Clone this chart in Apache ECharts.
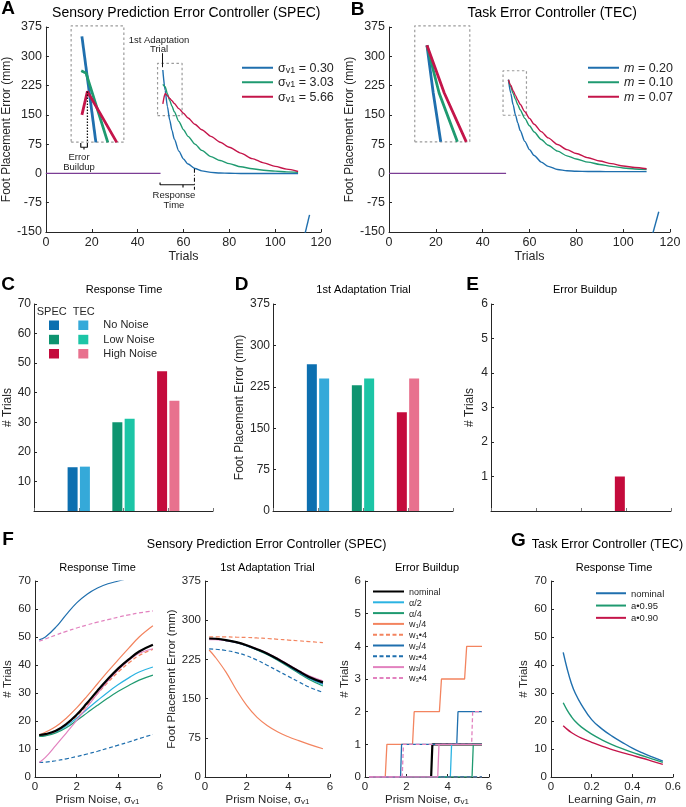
<!DOCTYPE html>
<html><head><meta charset="utf-8">
<script src="https://cdn.jsdelivr.net/npm/echarts@6/dist/echarts.min.js"></script>
<style>html,body{margin:0;padding:0;background:#fff}#c{width:686px;height:807px}</style>
</head><body><div id="c"></div>
<script>
// ================= DATA =================
// Panel A – SPEC, foot placement error per trial
const baselineTrials = [0, 50];
const baselineErr = [0, 0];
const adaptTrials = [51,52,53,54,55,56,58,60,62,65,68,72,76,80,85,90,95,100,105,110];
const specSig030 = [265,213,171,137,110,88,57,37,24,12.5,6.5,2.6,1,0.4,0,0,0,0,0,0];
const specSig303 = [228,222,204,187,172,158,133,112,95,75,59,43,33,25,17,12,8,6,4,3];
const specSig566 = [178,205,199,192,186,179,166,154,142,126,112,95,80,67,52,38,27,18,11,5];
const specLegend = ['0.30','3.03','5.66'];
// Panel B – TEC
const tecM020 = [240,205,176,150,129,110,82,61,46,29,18,10,7,5.5,5,4.8,4.6,4.5,4.5,4.5];
const tecM010 = [240,222,205,190,176,163,141,122,106,87,72,57,45,37,29,23,18,14,11.5,10];
const tecM007 = [240,226,212,200,188,177,158,141,126,107,91,74,61,51,40,32,25,19,15,12];
const tecLegend = ['0.20','0.10','0.07'];
// stray segments at the right edge of A and B
const strayA_x = [113, 115], strayA_y = [-155, -106];
const strayB_x = [112.6, 115.2], strayB_y = [-155, -98];
// inset (zoomed first trials) in A
const insetA_blue_x = [15.7, 21.8], insetA_blue_y = [351, 79.5];
const insetA_green_x = [15.4, 16.5, 17.5, 27], insetA_green_y = [263, 260, 257, 79.5];
const insetA_red_x = [15.7, 18.1, 24.4, 30.9], insetA_red_y = [150, 210, 146, 79.5];
// inset in B
const insetB_blue_x = [16.2, 18.9, 22.1], insetB_blue_y = [328, 206, 81];
const insetB_green_x = [16.2, 21.4, 29.2], insetB_green_y = [328, 206, 81];
const insetB_red_x = [16.2, 23.6, 33.0], insetB_red_y = [328, 206, 81];
// dashed boxes [x0,x1,y0,y1]
const boxA_big = [11, 34, 80, 378], boxA_small = [48.7, 59.4, 148, 282];
const boxB_big = [11, 34.5, 81, 378], boxB_small = [48.7, 58.7, 149, 263];
// annotation guides in A
const buildupDot_x = [18.1, 18.1], buildupDot_y = [210, 79];
const buildupBr_x = [15.2, 15.2, 18.1, 18.1], buildupBr_y = [78, 67, 67, 78];
const buildupStem_x = [16.6, 16.6], buildupStem_y = [67, 61];
const respBr_x = [49.8, 49.8, 64.8], respBr_y = [-23, -29, -29];
const respStem_x = [59.8, 59.8], respStem_y = [-29, -36];
const respEnd_x = [64.8, 64.8], respEnd_y = [12, -42];
const arrow_x = 50.9, arrow_y = [308, 272];

// Panels C, D, E – bars (No / Low / High noise)
const barCats = ['', 'No Noise', 'Low Noise', 'High Noise', ''];
const rtSpec = [14.8, 30.0, 47.3];
const rtTec = [15.0, 31.2, 37.3];
const firstSpec = [266, 228, 179];
const firstTec = [240, 240, 240];
const buildSpec = [0, 0, 1];
const buildTec = [0, 0, 0];

// Panel F – sensitivity vs prism noise
const fX = [0.2,0.5,1,1.5,2,2.5,3,3.5,4,4.5,5,5.66];
const rtNominal = [15,15.3,16.5,18.9,22.2,26.4,30.8,35,38.8,42,44.8,47.2];
const rtAlpha2 = [14.8,15,16,18.2,21,24.2,27.3,30.3,33,35.4,37.5,39.3];
const rtAlpha4 = [14.5,14.7,15.7,17.6,20.2,22.9,25.6,28.2,30.6,32.7,34.6,36.4];
const rtW1div = [15,16,18,21,24.7,28.9,33.3,37.7,41.9,46,50,54];
const rtW1mul = [15,15.2,16.3,18.7,21.7,25.6,29.8,33.8,37.5,40.7,43.4,45.6];
const rtW2div = [49,50,53.5,58,62.2,65.3,67.5,69,70,71,72,73];
const rtW2mul = [5.2,5.3,5.8,6.5,7.3,8.2,9.2,10.3,11.4,12.5,13.7,15.2];
const rtW3div = [5.2,7,11.3,15.7,20.2,25,29.8,34.3,38.3,41.6,44.2,45.8];
const rtW3mul = [48.5,49.3,50.7,52,53.2,54.3,55.3,56.2,57.1,57.9,58.6,59.3];

const faNominal = [265,264.5,262,258,252,244.5,236,225.5,214,202.5,191.5,181];
const faAlpha2 = [265,264.5,262,258,251.5,244,235,224.5,212.5,200.5,188.5,177];
const faAlpha4 = [265,264.5,261.5,257.5,251,243,234,223,211,198.5,186.5,174];
const faW1div = [243,229,201,167,137,114,98,86,77,69.5,62.5,54];
const faW1mul = [268,268,268,267.5,267,266,265,263.5,262,260.5,259,257];
const faW2div = [264,263.5,261,257,251,243.5,235,224.5,212.5,200.5,189.5,179];
const faW2mul = [245,244.5,242,238,232,223.5,213.5,203,192.5,182,172,162];
const faW3div = [263,263,261,257.5,252,245,236.5,226.5,215,203.5,193.5,184];
const faW3mul = [265,264.5,262,258,252.5,245.5,237,226.5,215,203.5,192.5,182];

const ebNominal_x = [0.2,3.2,3.26,5.66], ebNominal_y = [0,0,1,1];
const ebAlpha2_x = [0.2,4.13,4.19,5.66], ebAlpha2_y = [0,0,1,1];
const ebAlpha4_x = [0.2,5.18,5.24,5.66], ebAlpha4_y = [0,0,1,1];
const ebW1div_x = [0.2,0.98,1.06,2.3,2.38,3.6,3.7,4.82,4.92,5.66], ebW1div_y = [0,0,1,1,2,2,3,3,4,4];
const ebW1mul_x = [0.2,5.66], ebW1mul_y = [0,0];
const ebW2div_x = [0.2,1.72,1.77,4.44,4.5,5.66], ebW2div_y = [0,0,1,1,2,2];
const ebW2mul_x = [0.2,5.66], ebW2mul_y = [0,0];
const ebW3div_x = [0.2,3.52,3.58,5.66], ebW3div_y = [0,0,1,1];
const ebW3mul_x = [0.2,1.8,1.86,5.16,5.21,5.66], ebW3mul_y = [0,0,1,1,2,2];

// Panel G – TEC response time vs learning gain
const gX = [0.06,0.08,0.1,0.12,0.15,0.2,0.25,0.3,0.35,0.4,0.45,0.5,0.55];
const gNominal = [44.5,38.5,33.5,29.8,25.8,20.5,17.2,14.6,12.4,10.3,8.6,7.1,5.7];
const gA095 = [26.5,23.8,21.6,19.8,17.8,15.3,13.3,11.6,10.1,8.8,7.6,6.4,5.2];
const gA090 = [18.3,17,15.9,15,13.9,12.4,11,9.8,8.7,7.7,6.7,5.6,4.5];

// ================= STYLE =================
const FONT = '"Liberation Sans", Arial, Helvetica, sans-serif';
const AX = '#262626';
const C_BLUE = '#1f6fae', C_GREEN = '#1f9a70', C_RED = '#c4154a', C_PURPLE = '#7b3d95';
const C_CYAN = '#2bb3e2', C_ORANGE = '#f3845f', C_PINK = '#e282bf';
const specBarColors = ['#0c6fb0', '#0e9470', '#c40b3c'];
const tecBarColors = ['#35a9d9', '#1cc5a6', '#e8718e'];
const BOXC = '#9b9b9b';

const zip = (xs, ys) => xs.map((x, i) => [x, ys[i]]);
function line(name, gi, xs, ys, color, width, extra) {
  const s = {type:'line', name, xAxisIndex:gi, yAxisIndex:gi, data:zip(xs, ys), symbol:'none',
    color, lineStyle:{color, width, type:'solid'}, silent:true, animation:false, z:3};
  if (extra) {
    if (extra.type) s.lineStyle.type = extra.type;
    if (extra.smooth !== undefined) s.smooth = extra.smooth;
    if (extra.mono) s.smoothMonotone = 'x';
    if (extra.clip !== undefined) s.clip = extra.clip;
    if (extra.z !== undefined) s.z = extra.z;
    if (extra.markLine) s.markLine = extra.markLine;
  }
  return s;
}
function boxSeries(name, gi, b) {
  return line(name, gi, [b[0], b[1], b[1], b[0], b[0]], [b[2], b[2], b[3], b[3], b[2]], BOXC, 1.2, {type:[2.5,2.5], clip:false, z:2});
}
function rich(fs) {
  return {
    a:{fontSize:fs, color:AX, fontFamily:FONT, verticalAlign:'bottom', lineHeight:fs + 2},
    i:{fontSize:fs, color:AX, fontFamily:FONT, fontStyle:'italic', verticalAlign:'bottom', lineHeight:fs + 2},
    s:{fontSize:Math.round(fs * 0.68), color:AX, fontFamily:FONT, verticalAlign:'bottom', lineHeight:Math.round(fs*0.45)}
  };
}
function valAxis(gi, min, max, interval, o) {
  o = o || {};
  const lab = {show:o.labels !== false, color:AX, fontSize:o.size || 11, fontFamily:FONT, margin:o.margin || 4};
  if (o.hideZero) lab.formatter = v => (v === 0 ? '' : String(v));
  return {
    type:'value', gridIndex:gi, min, max, interval,
    name:o.name || '', nameLocation:'middle', nameGap:o.nameGap || 20,
    nameTextStyle:{color:AX, fontSize:o.nameSize || 11.5, fontFamily:FONT, rich:o.rich},
    axisLine:{show:true, onZero:false, lineStyle:{color:AX, width:1}},
    axisTick:{show:true, inside:true, length:3, lineStyle:{color:AX, width:1}},
    axisLabel:lab, splitLine:{show:false}
  };
}
function catAxis(gi) {
  return {type:'category', gridIndex:gi, data:barCats, boundaryGap:false,
    axisLine:{show:true, onZero:false, lineStyle:{color:AX, width:1}},
    axisTick:{show:true, inside:true, length:3, interval:0, lineStyle:{color:'#777'}},
    axisLabel:{show:false}, splitLine:{show:false}};
}
function bars(name, gi, vals, colors) {
  return {type:'bar', name, xAxisIndex:gi, yAxisIndex:gi, barWidth:10, barGap:'23%', silent:true, animation:false, z:3,
    data:['-'].concat(vals.map((v, i) => ({value:v, itemStyle:{color:colors[i]}}))).concat(['-'])};
}

const series = [];
// ---- A ----
series.push(line('baseA', 0, baselineTrials, baselineErr, C_PURPLE, 1.3));
series.push(boxSeries('boxA1', 0, boxA_big));
series.push(boxSeries('boxA2', 0, boxA_small));
series.push(line('A1', 0, adaptTrials, specSig030, C_BLUE, 1.4, {smooth:0.25, mono:true}));
series.push(line('A2', 0, adaptTrials, specSig303, C_GREEN, 1.4, {smooth:0.25, mono:true}));
series.push(line('A3', 0, adaptTrials, specSig566, C_RED, 1.4, {smooth:0.25, mono:true}));
series.push(line('iAb', 0, insetA_blue_x, insetA_blue_y, C_BLUE, 2.8, {clip:false}));
series.push(line('iAg', 0, insetA_green_x, insetA_green_y, C_GREEN, 2.8, {clip:false}));
series.push(line('iAr', 0, insetA_red_x, insetA_red_y, C_RED, 2.8, {clip:false}));
series.push(line('stA', 0, strayA_x, strayA_y, C_BLUE, 1.4));
series.push(line('dotA', 0, buildupDot_x, buildupDot_y, '#111', 1.3, {type:[1.5,1.5], z:5,
  markLine:{silent:true, symbol:['none','arrow'], symbolSize:[0,6], label:{show:false}, animation:false,
    lineStyle:{color:'#111', width:1, type:'solid'}, data:[[{coord:[arrow_x, arrow_y[0]]},{coord:[arrow_x, arrow_y[1]]}]]}}));
series.push(line('brA', 0, buildupBr_x, buildupBr_y, '#111', 1.2, {clip:false}));
series.push(line('stemA', 0, buildupStem_x, buildupStem_y, '#111', 1.2, {clip:false}));
series.push(line('rbr', 0, respBr_x, respBr_y, '#111', 1.2));
series.push(line('rstem', 0, respStem_x, respStem_y, '#111', 1.2));
series.push(line('rend', 0, respEnd_x, respEnd_y, '#111', 1.1, {type:[4,2,1,2]}));
// ---- B ----
series.push(line('baseB', 1, baselineTrials, baselineErr, C_PURPLE, 1.3));
series.push(boxSeries('boxB1', 1, boxB_big));
series.push(boxSeries('boxB2', 1, boxB_small));
series.push(line('B1', 1, adaptTrials, tecM020, C_BLUE, 1.4, {smooth:0.25, mono:true}));
series.push(line('B2', 1, adaptTrials, tecM010, C_GREEN, 1.4, {smooth:0.25, mono:true}));
series.push(line('B3', 1, adaptTrials, tecM007, C_RED, 1.4, {smooth:0.25, mono:true}));
series.push(line('iBb', 1, insetB_blue_x, insetB_blue_y, C_BLUE, 2.8, {clip:false}));
series.push(line('iBg', 1, insetB_green_x, insetB_green_y, C_GREEN, 2.8, {clip:false}));
series.push(line('iBr', 1, insetB_red_x, insetB_red_y, C_RED, 2.8, {clip:false}));
series.push(line('stB', 1, strayB_x, strayB_y, C_BLUE, 1.4));
// ---- C D E ----
series.push(bars('C SPEC', 2, rtSpec, specBarColors));
series.push(bars('C TEC', 2, rtTec, tecBarColors));
series.push(bars('D SPEC', 3, firstSpec, specBarColors));
series.push(bars('D TEC', 3, firstTec, tecBarColors));
series.push(bars('E SPEC', 4, buildSpec, specBarColors));
series.push(bars('E TEC', 4, buildTec, tecBarColors));
// ---- F ----
const fNames = ['nominal','α/2','α/4','w1/4','w1•4','w2/4','w2•4','w3/4','w3•4'];
const fColors = ['#000', C_CYAN, C_GREEN, C_ORANGE, C_ORANGE, C_BLUE, C_BLUE, C_PINK, C_PINK];
const fTypes = ['solid','solid','solid','solid',[4,2.5],'solid',[4,2.5],'solid',[4,2.5]];
const fWidths = [2.2,1.2,1.2,1.2,1.2,1.2,1.2,1.2,1.2];
const rtAll = [rtNominal, rtAlpha2, rtAlpha4, rtW1div, rtW1mul, rtW2div, rtW2mul, rtW3div, rtW3mul];
const faAll = [faNominal, faAlpha2, faAlpha4, faW1div, faW1mul, faW2div, faW2mul, faW3div, faW3mul];
const ebX = [ebNominal_x, ebAlpha2_x, ebAlpha4_x, ebW1div_x, ebW1mul_x, ebW2div_x, ebW2mul_x, ebW3div_x, ebW3mul_x];
const ebY = [ebNominal_y, ebAlpha2_y, ebAlpha4_y, ebW1div_y, ebW1mul_y, ebW2div_y, ebW2mul_y, ebW3div_y, ebW3mul_y];
const fOrder = [1,2,3,4,5,6,7,8,0];
fOrder.forEach(k => series.push(line(fNames[k], 5, fX, rtAll[k], fColors[k], fWidths[k], {type:fTypes[k], smooth:0.4, z: k===0?4:3})));
fOrder.forEach(k => series.push(line(fNames[k], 6, fX, faAll[k], fColors[k], fWidths[k], {type:fTypes[k], smooth:0.4, z: k===0?4:3})));
[0,1,2,3,4,5,6,7,8].forEach(k => series.push(line(fNames[k], 7, ebX[k], ebY[k], fColors[k], k===0?2.2:1.3, {type:fTypes[k], z:3+k*0.1})));
// ---- G ----
series.push(line('G nominal', 8, gX, gNominal, C_BLUE, 1.4, {smooth:0.4}));
series.push(line('G a0.95', 8, gX, gA095, C_GREEN, 1.4, {smooth:0.4}));
series.push(line('G a0.90', 8, gX, gA090, C_RED, 1.4, {smooth:0.4}));

const legendText = {
  'A1':'{a|σ}{s|v1}{a| = ' + specLegend[0] + '}', 'A2':'{a|σ}{s|v1}{a| = ' + specLegend[1] + '}', 'A3':'{a|σ}{s|v1}{a| = ' + specLegend[2] + '}',
  'B1':'{i|m}{a| = ' + tecLegend[0] + '}', 'B2':'{i|m}{a| = ' + tecLegend[1] + '}', 'B3':'{i|m}{a| = ' + tecLegend[2] + '}',
  'nominal':'{a|nominal}', 'α/2':'{a|α/2}', 'α/4':'{a|α/4}',
  'w1/4':'{a|w}{s|1}{a|/4}', 'w1•4':'{a|w}{s|1}{a|•4}', 'w2/4':'{a|w}{s|2}{a|/4}', 'w2•4':'{a|w}{s|2}{a|•4}',
  'w3/4':'{a|w}{s|3}{a|/4}', 'w3•4':'{a|w}{s|3}{a|•4}',
  'G nominal':'{a|nominal}', 'G a0.95':'{a|a•0.95}', 'G a0.90':'{a|a•0.90}'
};
const legFmt = n => legendText[n] || n;
function legend(names, left, top, iw, ih, gap, fs, lw) {
  const l = {data:names, orient:'vertical', left, top, itemWidth:iw, itemHeight:ih, itemGap:gap, selectedMode:false,
    formatter:legFmt, textStyle:{fontSize:fs, color:AX, fontFamily:FONT, rich:rich(fs)}, padding:0,
    itemStyle:{color:'rgba(0,0,0,0)', borderColor:'rgba(0,0,0,0)', borderWidth:0, opacity:0}};
  if (lw) l.lineStyle = {width:lw};
  return l;
}

// text helpers
const T = (text, x, y, size, o) => ({type:'text', x, y, silent:true, z:100,
  style:{text, fill:(o && o.fill) || '#000', fontSize:size, fontFamily:FONT, fontWeight:(o && o.bold) ? 'bold' : 'normal',
    align:(o && o.align) || 'center', verticalAlign:'middle', textAlign:(o && o.align) || 'center', textVerticalAlign:'middle'}});
const R = (x, y, w, h, fill) => ({type:'rect', silent:true, z:100, shape:{x, y, width:w, height:h}, style:{fill}});

const graphic = [
  T('A', 8, 9, 19, {bold:true}), T('B', 357.7, 9.5, 19, {bold:true}),
  T('C', 8, 284.5, 19, {bold:true}), T('D', 241.7, 284.5, 19, {bold:true}), T('E', 472.5, 284.5, 19, {bold:true}),
  T('F', 8, 540, 19, {bold:true}), T('G', 518.5, 541, 19, {bold:true}),
  T('Sensory Prediction Error Controller (SPEC)', 186.3, 13.5, 14),
  T('Task Error Controller (TEC)', 552.2, 13.5, 14),
  T('Response Time', 124, 290, 11), T('1st Adaptation Trial', 363.5, 290, 11), T('Error Buildup', 585, 290, 11),
  T('Sensory Prediction Error Controller (SPEC)', 266.7, 545, 12.5), T('Task Error Controller (TEC)', 607.5, 545, 12.5),
  T('Response Time', 97.5, 568.3, 11), T('1st Adaptation Trial', 267.5, 568.3, 11), T('Error Buildup', 427, 568.3, 11),
  T('Response Time', 614, 568.3, 11),
  T('1st Adaptation', 159, 40, 9.5, {fill:'#222'}), T('Trial', 159, 49.5, 9.5, {fill:'#222'}),
  T('Error', 79, 157.5, 9.5, {fill:'#222'}), T('Buildup', 79, 167.5, 9.5, {fill:'#222'}),
  T('Response', 174, 195, 9.5, {fill:'#222'}), T('Time', 174, 205.5, 9.5, {fill:'#222'}),
  T('SPEC', 51.7, 311.7, 11, {fill:AX}), T('TEC', 83.7, 311.7, 11, {fill:AX}),
  R(49, 320.5, 10, 9.5, specBarColors[0]), R(49, 334.8, 10, 9.5, specBarColors[1]), R(49, 349, 10, 9.5, specBarColors[2]),
  R(78.3, 320.5, 10, 9.5, tecBarColors[0]), R(78.3, 334.8, 10, 9.5, tecBarColors[1]), R(78.3, 349, 10, 9.5, tecBarColors[2]),
  T('No Noise', 103.3, 325.2, 11, {align:'left', fill:AX}), T('Low Noise', 103.3, 339.5, 11, {align:'left', fill:AX}),
  T('High Noise', 103.3, 353.8, 11, {align:'left', fill:AX})
];

const option = {
  animation:false,
  textStyle:{fontFamily:FONT},
  grid:[
    {left:40, top:27, width:281, height:205},
    {left:389, top:27, width:281, height:205},
    {left:34, top:304, width:179, height:207},
    {left:273, top:304, width:180, height:207},
    {left:491, top:304, width:180, height:207},
    {left:35, top:581, width:125, height:196},
    {left:205, top:581, width:125, height:196},
    {left:365, top:581, width:124, height:196},
    {left:551, top:581, width:122, height:196}
  ],
  xAxis:[
    valAxis(0, 0, 120, 20, {size:12.5, name:'Trials', nameGap:16, nameSize:12.5, margin:4}),
    valAxis(1, 0, 120, 20, {size:12.5, name:'Trials', nameGap:16, nameSize:12.5, margin:4}),
    catAxis(2), catAxis(3), catAxis(4),
    valAxis(5, 0, 6, 2, {size:11.5, name:'{a|Prism Noise, σ}{s|v1}', nameGap:14, rich:rich(11.5)}),
    valAxis(6, 0, 6, 2, {size:11.5, name:'{a|Prism Noise, σ}{s|v1}', nameGap:14, rich:rich(11.5)}),
    valAxis(7, 0, 6, 2, {size:11.5, name:'{a|Prism Noise, σ}{s|v1}', nameGap:14, rich:rich(11.5)}),
    valAxis(8, 0, 0.6, 0.2, {size:11.5, name:'{a|Learning Gain, }{i|m}', nameGap:14, rich:rich(11.5)})
  ],
  yAxis:[
    valAxis(0, -150, 375, 75, {size:12.5, name:'Foot Placement Error (mm)', nameGap:25, nameSize:12}),
    valAxis(1, -150, 375, 75, {size:12.5, name:'Foot Placement Error (mm)', nameGap:25, nameSize:12}),
    valAxis(2, 0, 70, 10, {size:12, name:'# Trials', nameGap:19, nameSize:12, hideZero:true, margin:3}),
    valAxis(3, 0, 375, 75, {size:12, name:'Foot Placement Error (mm)', nameGap:25, nameSize:12, margin:3}),
    valAxis(4, 0, 6, 1, {size:12, name:'# Trials', nameGap:15, nameSize:12, hideZero:true, margin:3}),
    valAxis(5, 0, 70, 10, {size:11.5, name:'# Trials', nameGap:19, nameSize:11.5}),
    valAxis(6, 0, 375, 75, {size:11.5, name:'Foot Placement Error (mm)', nameGap:22, nameSize:11.5}),
    valAxis(7, 0, 6, 1, {size:11.5, name:'# Trials', nameGap:12, nameSize:11.5}),
    valAxis(8, 0, 70, 10, {size:11.5, name:'# Trials', nameGap:19, nameSize:11.5})
  ],
  legend:[
    legend(['A1','A2','A3'], 241, 62, 31, 12, 1.5, 12.5, 2),
    legend(['B1','B2','B3'], 587, 62, 31, 12, 1.5, 12.5, 2),
    legend(fNames, 372, 588, 31, 8, 1.8, 9),
    legend(['G nominal','G a0.95','G a0.90'], 595, 589, 30, 8, 2.3, 9.5)
  ],
  series,
  graphic
};
const chart = echarts.init(document.getElementById('c'), null, {renderer:'canvas'});
chart.setOption(option);
</script></body></html>
